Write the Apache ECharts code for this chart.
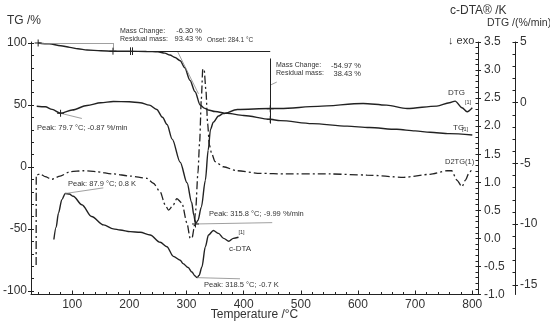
<!DOCTYPE html>
<html><head><meta charset="utf-8">
<script src="https://cdn.jsdelivr.net/npm/echarts@6/dist/echarts.min.js"></script>
<style>html,body{margin:0;padding:0;background:#fff}#c{width:550px;height:325px}</style>
</head><body><div id="c"></div>
<script>
// ---- data ----
const tgT  = [40.5,60,80,96,110,126,150,172,200,230,250,262,271,280,289,297,306,315,324,331,338,350,371,400,446,464,520,581,620,668,700,726,760,800];
const tgV  = [100,99.3,97.8,96.5,95.3,94.4,93.7,93.4,93.3,93.2,92.8,91.8,90.3,88.3,85.7,80,70,60.7,50,47.5,46,44.7,43.3,41.5,38.5,37.4,35,33,31.8,30.4,29.1,28,26.9,25.8];
const dtgT = [38,53,65,79.7,100,126,150,172,200,219,235,248,258,266,275,289,301,309,313,315.8,320,326,333,338,342,347,356,364,389,446,464,530,609,650,686,738,760,770,782,791,800];
const dtgV = [-0.29,-0.34,-0.55,-0.87,-0.6,-0.23,0.0,0.1,0.08,0.0,-0.2,-0.56,-1.2,-1.8,-3.0,-4.9,-6.6,-8.2,-9.3,-9.99,-9.7,-8.6,-6.4,-3.9,-2.2,-1.6,-1.1,-0.9,-0.56,-0.48,-0.48,-0.3,-0.06,-0.2,-0.48,-0.28,0.0,0.13,-0.42,-0.75,-0.42];
const d2tgT = [37,37.2,44,52.7,64.5,79,96.5,120,143,172,201.5,230.7,242,254,262.7,268.6,277,283,292,300.7,306.5,310,313,316,320,323,326,328.5,331,334,337,340,344,350,364.6,388,429,475,551,616,680,726,756,764,773,782,788,794,800];
const d2tgV = [-79,-6.5,-5.6,-7.8,-9.9,-7.3,-3.8,-3.0,-3.8,-5.6,-7.3,-9.1,-13.1,-20,-30.6,-34.7,-30.6,-25.5,-29,-45,-57.5,-57,-50,-35,-5,20,55,79,78,62,35,18,11,4.3,0.2,-3,-5.1,-5.6,-5.6,-6.5,-8.3,-5.9,-3,-3,-10.5,-15.9,-10.5,-5.1,-1];
const cdtaT = [68,72,76,82,87.9,95,102,117,134,155,172,184,201.5,219,236.5,254,265.7,277,289,294,303,309.5,315,318.5,322,327,333,338.5,347,356,365,374,382,391];
const cdtaV = [-0.02,0.2,0.45,0.69,0.8,0.79,0.75,0.6,0.39,0.24,0.17,0.15,0.12,0.11,0.06,-0.07,-0.15,-0.32,-0.39,-0.45,-0.52,-0.6,-0.67,-0.7,-0.66,-0.51,-0.15,0.06,0.14,0.09,0.0,-0.05,0.0,0.02];
const xTicks    = [100,200,300,400,500,600,700,800];
const tgTicks   = [-100,-50,0,50,100];
const cdtaTicks = [-1.0,-0.5,0.0,0.5,1.0,1.5,2.0,2.5,3.0,3.5];
const dtgTicks  = [-15,-10,-5,0,5];

function range(a,b,s){const r=[];for(let v=a;v<=b+1e-9;v+=s)r.push(Math.round(v*1000)/1000);return r;}
const zip=(a,b)=>a.map((t,i)=>[t,b[i]]);

const FONT='"Liberation Sans", Arial, sans-serif';
const INK='#222', GRAY='#888', TXT='#333';
const chart=echarts.init(document.getElementById('c'),null,{renderer:'canvas'});

function baseAxis(extra){
  return Object.assign({type:'value',splitLine:{show:false},
    axisLine:{show:true,onZero:false,lineStyle:{color:INK,width:1}},
    axisLabel:{show:false},axisTick:{show:false}},extra);
}
function majorAxis(pos,min,max,ticks,fmt,offset,margin){
  return baseAxis({position:pos,min,max,offset:offset||0,
    axisLabel:{show:true,customValues:ticks,formatter:fmt,color:TXT,fontSize:12,fontFamily:FONT,margin:margin},
    axisTick:{show:true,customValues:ticks,inside:false,length:3,lineStyle:{color:INK}}});
}
function minorAxis(pos,min,max,ticks,offset,len){
  return baseAxis({position:pos,min,max,offset:offset||0,axisLine:{show:false,onZero:false},
    axisTick:{show:true,customValues:ticks,inside:true,length:len,lineStyle:{color:INK}}});
}

const lineMark=(pairs)=>({silent:true,symbol:'none',label:{show:false},animation:false,
  lineStyle:{color:GRAY,width:0.8,type:'solid'},
  data:pairs.map(p=>[{coord:p[0]},{coord:p[1]}])});
const cross='path://M0,5L10,5M5,0L5,10';
const crossMark=(pts)=>({silent:true,symbol:cross,symbolSize:7,label:{show:false},
  itemStyle:{color:'none',borderColor:INK,borderWidth:1},data:pts.map(p=>({coord:p}))});

const option={
  animation:false,
  grid:{left:31,right:72,top:42,bottom:30.5,containLabel:false,outerBoundsMode:'none'},
  xAxis:[
    baseAxis({position:'bottom',min:28,max:810,
      axisLabel:{show:true,customValues:xTicks,color:TXT,fontSize:12,fontFamily:FONT,margin:4},
      axisTick:{show:true,customValues:xTicks,inside:true,length:4,lineStyle:{color:INK}},
      name:'Temperature /°C',nameLocation:'middle',nameGap:14,nameMoveOverlap:false,
      nameTextStyle:{color:TXT,fontSize:12,fontFamily:FONT,verticalAlign:'top',lineHeight:12}}),
    minorAxis('bottom',28,810,range(40,800,20),0,2.5)
  ],
  yAxis:[
    majorAxis('left',-102.8,100.8,tgTicks,v=>String(v),0,4),
    minorAxis('left',-102.8,100.8,range(-100,100,10),0,3),
    majorAxis('right',-1,3.5,cdtaTicks,v=>v.toFixed(1),0,6),
    minorAxis('right',-1,3.5,range(-1,3.5,0.1),0,2.5),
    majorAxis('right',-15.8,5,dtgTicks,v=>String(v),37,5),
    minorAxis('right',-15.8,5,range(-15,5,1),37,2.5),
    baseAxis({show:false,min:-102.8,max:100.8})
  ],
  series:[
    {name:'TG',type:'line',xAxisIndex:0,yAxisIndex:0,data:zip(tgT,tgV),showSymbol:false,smooth:0.3,smoothMonotone:'x',
      lineStyle:{color:INK,width:1.4},
      markLine:lineMark([
        [[40.5,100],[171.4,100]],[[171.4,100],[171.4,93.3]],
        [[284.1,93.43],[321,59]],
        [[284.1,93.43],[336,101.8]],
        [[446.5,66],[458,68.5]]
      ]),
      markPoint:crossMark([[40.5,100],[171.4,93.4],[446.5,38.43]])
    },
    {name:'TGmarks',type:'line',xAxisIndex:0,yAxisIndex:0,data:[],
      markLine:{silent:true,symbol:'none',label:{show:false},lineStyle:{color:INK,width:1,type:'solid'},
        data:[[{coord:[200,93.43]},{coord:[446.5,93.43]}],
              [{coord:[201,96.5]},{coord:[201,90.3]}],[{coord:[206,96.5]},{coord:[206,90.3]}]]}},
    {name:'TGarrow',type:'line',xAxisIndex:0,yAxisIndex:0,data:[],
      markLine:{silent:true,symbol:['none','arrow'],symbolSize:[0,6],label:{show:false},
        lineStyle:{color:INK,width:1,type:'solid'},
        data:[[{coord:[446.5,35]},{coord:[446.5,87.5]}]]}},
    {name:'DTG',type:'line',xAxisIndex:0,yAxisIndex:4,data:zip(dtgT,dtgV),showSymbol:false,smooth:0.3,smoothMonotone:'x',
      lineStyle:{color:INK,width:1.4},
      markLine:lineMark([[[79.7,-0.87],[117,-1.3]],[[315.8,-9.99],[450,-9.88]]]),
      markPoint:crossMark([[79.7,-0.87],[446.5,-0.5],[315.8,-9.99]])
    },
    {name:'c-DTA',type:'line',xAxisIndex:0,yAxisIndex:2,data:zip(cdtaT,cdtaV),showSymbol:false,smooth:0.3,smoothMonotone:'x',
      lineStyle:{color:INK,width:1.4},
      markLine:lineMark([[[87.9,0.8],[154.5,0.9]],[[318.5,-0.7],[393.6,-0.72]]])
    },
    {name:'D2TG',type:'line',xAxisIndex:0,yAxisIndex:6,data:zip(d2tgT,d2tgV),showSymbol:false,smooth:0.25,smoothMonotone:'x',
      lineStyle:{color:INK,width:1.3,type:[8,3,2,3]}}
  ],
  graphic:[]
};
chart.setOption(option);

function txt(x,y,s,size,extra){
  return Object.assign({type:'text',x:x,y:y,silent:true,
    style:{text:s,fill:TXT,font:size+'px '+FONT,textVerticalAlign:'middle',textAlign:'left'}},extra||{});
}
function rt(x,y,s,size){const e=txt(x,y,s,size);e.style.textAlign='right';return e;}
function ct(x,y,s,size){const e=txt(x,y,s,size);e.style.textAlign='center';return e;}
const G=[
  txt(7,21,'TG /%',12),
  txt(450,11,'c-DTA® /K',12),
  txt(487,23,'DTG /(%/min)',10.5),
  txt(448,41,'↓ exo',11),
  txt(120,31,'Mass Change:',7), rt(202,31,'-6.30 %',7.5),
  txt(120,39,'Residual mass:',7), rt(202,39,'93.43 %',7.5),
  txt(207,40.5,'Onset: 284.1 °C',6.5),
  txt(276,65.5,'Mass Change:',7), rt(361,65.5,'-54.97 %',7.5),
  txt(276,73.5,'Residual mass:',7), rt(361,73.5,'38.43 %',7.5),
  txt(37,128,'Peak: 79.7 °C; -0.87 %/min',7.5),
  txt(68,183.5,'Peak: 87.9 °C; 0.8 K',7.5),
  txt(209,214,'Peak: 315.8 °C; -9.99 %/min',7.5),
  txt(204,284.5,'Peak: 318.5 °C; -0.7 K',7.5),
  ct(240,249,'c-DTA',8), ct(241.5,232,'[1]',5.5),
  txt(448,93,'DTG',8), txt(465,102,'[1]',5.5),
  txt(453,127.5,'TG',8), txt(462,129.5,'[1]',5.5),
  txt(445,162,'D2TG(1)',7.5)
];
chart.setOption({graphic:G});
</script></body></html>
